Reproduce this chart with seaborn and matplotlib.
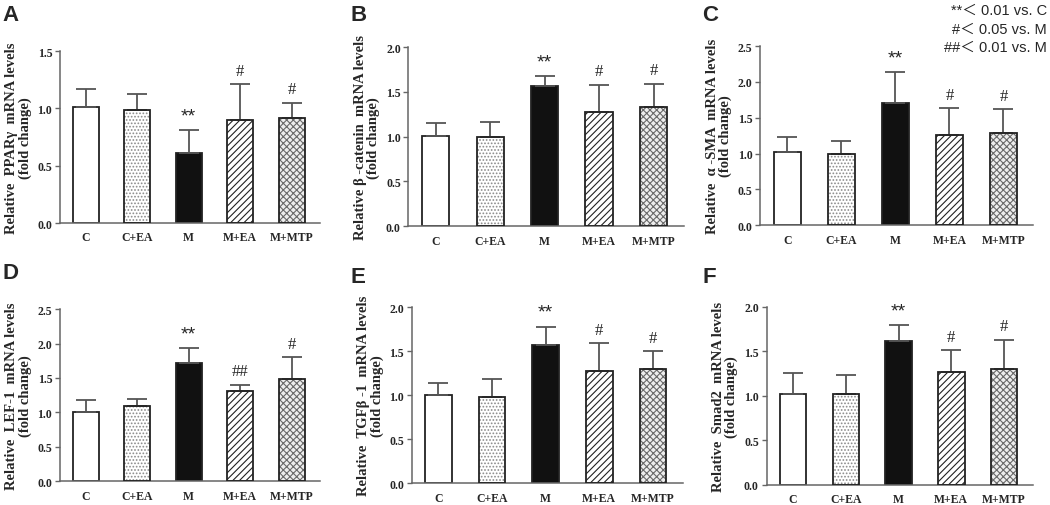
import numpy as np
import pandas as pd
import seaborn as sns
import matplotlib.pyplot as plt
from matplotlib.patches import Rectangle

# grupos
groups = ["C", "C+EA", "M", "M+EA", "M+MTP"]

# valores (média e desvio, só a barra superior)
ppar_mean = [1.01, 0.99, 0.61, 0.90, 0.92]
ppar_sd = [0.16, 0.14, 0.20, 0.31, 0.13]
ppar_sig = ["", "", "**", "#", "#"]

bcat_mean = [1.01, 1.00, 1.57, 1.27, 1.33]
bcat_sd = [0.14, 0.16, 0.11, 0.31, 0.26]
bcat_sig = ["", "", "**", "#", "#"]

sma_mean = [1.02, 0.99, 1.70, 1.26, 1.28]
sma_sd = [0.21, 0.19, 0.44, 0.37, 0.34]
sma_sig = ["", "", "**", "#", "#"]

lef_mean = [1.01, 1.09, 1.72, 1.31, 1.48]
lef_sd = [0.17, 0.11, 0.22, 0.09, 0.32]
lef_sig = ["", "", "**", "##", "#"]

tgf_mean = [1.00, 0.98, 1.57, 1.28, 1.30]
tgf_sd = [0.14, 0.20, 0.21, 0.31, 0.20]
tgf_sig = ["", "", "**", "#", "#"]

smad_mean = [1.02, 1.02, 1.61, 1.27, 1.30]
smad_sd = [0.23, 0.21, 0.18, 0.24, 0.33]
smad_sig = ["", "", "**", "#", "#"]

ylabels = [
    "Relative  PPARγ  mRNA levels\n(fold change)",
    "Relative β -catenin  mRNA levels\n(fold change)",
    "Relative  α -SMA  mRNA levels\n(fold change)",
    "Relative  LEF-1  mRNA levels\n(fold change)",
    "Relative  TGFβ -1  mRNA levels\n(fold change)",
    "Relative  Smad2  mRNA levels\n(fold change)",
]
ymax = [1.5, 2.0, 2.5, 2.5, 2.0, 2.0]
letters = ["A", "B", "C", "D", "E", "F"]

paineis = [
    (ppar_mean, ppar_sd, ppar_sig),
    (bcat_mean, bcat_sd, bcat_sig),
    (sma_mean, sma_sd, sma_sig),
    (lef_mean, lef_sd, lef_sig),
    (tgf_mean, tgf_sd, tgf_sig),
    (smad_mean, smad_sd, smad_sig),
]

# posição dos eixos [left, bottom, width, height] em fração da figura
posicoes = [
    [0.057, 0.557, 0.248, 0.340],
    [0.389, 0.551, 0.262, 0.354],
    [0.724, 0.553, 0.260, 0.354],
    [0.057, 0.047, 0.248, 0.340],
    [0.392, 0.043, 0.258, 0.348],
    [0.730, 0.040, 0.254, 0.352],
]

# estilo de cada barra: cor de fundo, hachura, cor da hachura
faces = ["white", "white", "#111111", "white", "#eeeeee"]
hatches = ["", ".....", "", "/////", "xxxxx"]
hatch_cols = ["#222222", "#8a8a8a", "#111111", "#222222", "#6a6a6a"]

sns.set_theme(style="ticks")
plt.rcParams["font.family"] = ["Liberation Serif", "DejaVu Serif"]
plt.rcParams["hatch.linewidth"] = 0.8

fig = plt.figure(figsize=(10.5, 5.06), dpi=100)

for i, (media, sd, sig) in enumerate(paineis):
    ax = fig.add_axes(posicoes[i])
    df = pd.DataFrame({"grupo": groups, "valor": media})
    sns.barplot(data=df, x="grupo", y="valor", hue="grupo", palette=faces,
                legend=False, errorbar=None, width=0.5, ax=ax, saturation=1)

    for p, h, hc in zip(ax.patches, hatches, hatch_cols):
        if h:
            p.set_hatch(h)
            p.set_edgecolor(hc)
            p.set_linewidth(0)
            # contorno preto por cima da hachura
            ax.add_patch(Rectangle(p.get_xy(), p.get_width(), p.get_height(),
                                   fill=False, edgecolor="#222222", lw=1.3, zorder=3))
        else:
            p.set_edgecolor("#222222")
            p.set_linewidth(1.3)

    ax.errorbar(range(len(groups)), media, yerr=[np.zeros(len(sd)), sd],
                fmt="none", ecolor="#555555", elinewidth=1.3, capsize=7.5,
                capthick=1.3, zorder=2)

    for j, s in enumerate(sig):
        if s:
            ax.annotate(s, (j, media[j] + sd[j]), xytext=(0, 4), textcoords="offset points",
                        ha="center", va="bottom", fontsize=14 if s == "**" else 12,
                        family=["Liberation Sans", "DejaVu Sans"] if s == "**" else None)

    ax.set_xlim(-0.5, 4.55)
    ax.set_ylim(0, ymax[i])
    ax.set_yticks(np.arange(0, ymax[i] + 0.01, 0.5))
    ax.set_yticklabels([f"{v:.1f}" for v in np.arange(0, ymax[i] + 0.01, 0.5)],
                       fontweight="bold", fontsize=8.5)
    ax.set_xticks(range(len(groups)))
    ax.set_xticklabels(groups, fontweight="bold", fontsize=8.5)
    ax.tick_params(axis="x", length=0, pad=6)
    ax.tick_params(axis="y", length=3.5, width=1, color="#666666", pad=2)
    ax.set_xlabel("")
    ax.set_ylabel(ylabels[i], fontweight="bold", fontsize=10.5, labelpad=4, linespacing=1.0)
    sns.despine(ax=ax)
    for lado in ["left", "bottom"]:
        ax.spines[lado].set_color("#666666")
        ax.spines[lado].set_linewidth(1.1)

# letras dos painéis
letra_pos = [(0.002, 0.99), (0.334, 0.99), (0.669, 0.99),
             (0.002, 0.48), (0.334, 0.472), (0.669, 0.472)]
for l, (x, y) in zip(letters, letra_pos):
    fig.text(x, y, l, fontsize=16, fontweight="bold", ha="left", va="top",
             family=["Liberation Sans", "DejaVu Sans"])

# legenda de significância
legenda = ["**＜ 0.01 vs. C", "#＜ 0.05 vs. M", "##＜ 0.01 vs. M"]
for k, txt in enumerate(legenda):
    fig.text(0.997, 0.978 - k * 0.036, txt, fontsize=10.5, ha="right", va="center",
             family=["Liberation Sans", "Noto Sans CJK SC", "DejaVu Sans"])

fig.savefig("out.png", dpi=100)
